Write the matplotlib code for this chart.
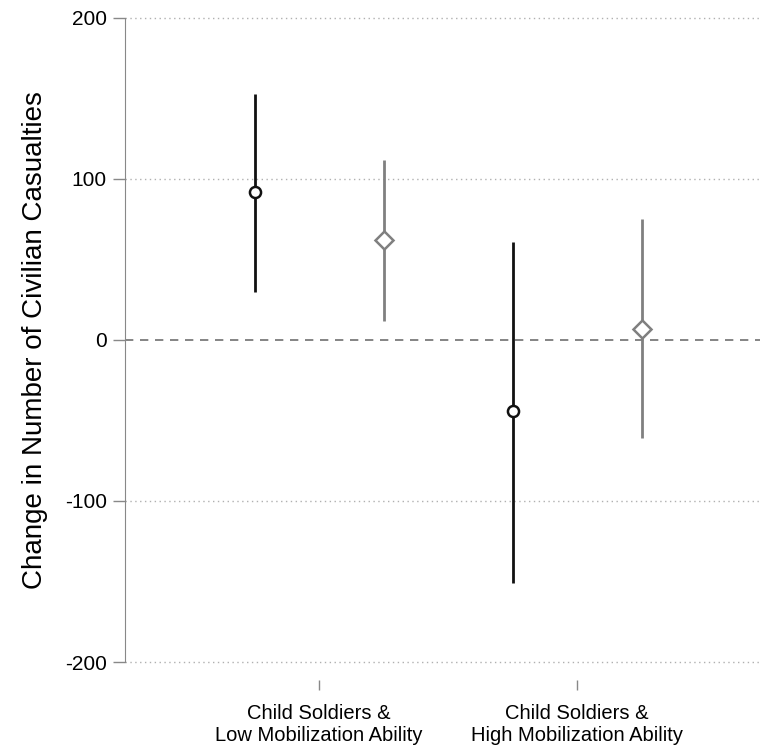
import matplotlib
matplotlib.use("Agg")
import matplotlib.pyplot as plt
import numpy as np

plt.rcParams['font.family'] = ['Liberation Sans', 'DejaVu Sans']
plt.rcParams['axes.unicode_minus'] = False

# estimates
categories = ["Child Soldiers &\nLow Mobilization Ability",
              "Child Soldiers &\nHigh Mobilization Ability"]
black_est = [92, -44]
black_lo = [30, -151]
black_hi = [153, 61]
gray_est = [62, 7]
gray_lo = [12, -61]
gray_hi = [112, 75]

yticks = [-200, -100, 0, 100, 200]

fig = plt.figure(figsize=(7.6, 7.46), dpi=100)
ax = fig.add_axes([0.1645, 0.1126, 0.8355, 0.8633])

pos = np.arange(1, len(categories) + 1)
off = 0.25

# gridlines + zero line
for yv in yticks:
    if yv == 0:
        ax.axhline(0, color='#707070', lw=1.2, ls=(0, (5, 4)), zorder=1)
    else:
        ax.axhline(yv, color='#b0b0b0', lw=1.0, ls=(0, (1, 2.5)), zorder=1, clip_on=False)

ax.vlines(pos - off, black_lo, black_hi, color='#111111', lw=2.0, zorder=3)
ax.plot(pos - off, black_est, 'o', mfc='white', mec='#111111', mew=1.8, ms=8, ls='none', zorder=4)
ax.vlines(pos + off, gray_lo, gray_hi, color='#808080', lw=2.0, zorder=3)
ax.plot(pos + off, gray_est, 'D', mfc='white', mec='#808080', mew=1.8, ms=9, ls='none', zorder=4)

ax.set_xlim(0.248, 2.709)
ax.set_ylim(-200, 200)
ax.set_yticks(yticks)
ax.set_xticks(pos)
ax.set_xticklabels(categories)
ax.tick_params(axis='y', length=9, width=1, color='#888888', labelsize=15, pad=4)
ax.tick_params(axis='x', length=7, width=1, color='#888888', labelsize=14.5, pad=10)
ax.set_ylabel("Change in Number of Civilian Casualties", fontsize=20, labelpad=12)

for s in ['top', 'right']:
    ax.spines[s].set_visible(False)
ax.spines['left'].set_color('#888888')
ax.spines['bottom'].set_position(('outward', 13))
ax.spines['bottom'].set_color('none')

fig.savefig("out.png", dpi=100)
